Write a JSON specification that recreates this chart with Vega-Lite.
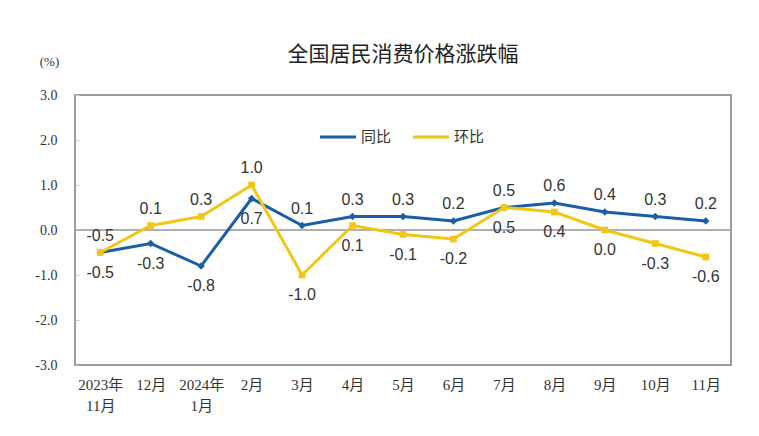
{
  "$schema": "https://vega.github.io/schema/vega-lite/v6.json",
  "width": 656,
  "height": 270,
  "autosize": {"type": "none"},
  "padding": {"left": 75, "top": 95, "right": 28, "bottom": 71},
  "background": "white",
  "title": {
    "text": "全国居民消费价格涨跌幅",
    "font": "Noto Sans CJK SC",
    "fontSize": 21,
    "fontWeight": "normal",
    "color": "#222",
    "anchor": "middle",
    "offset": -10
  },
  "config": {
    "view": {"stroke": "#9a9a9a", "strokeWidth": 2},
    "axis": {"grid": false},
    "locale": {"number": {"decimal": ".", "thousands": ",", "grouping": [3], "currency": ["", ""], "minus": "-"}}
  },
  "data": {
    "values": [
      {"month": "2023年 11月", "series": "同比", "value": -0.5},
      {"month": "12月", "series": "同比", "value": -0.3},
      {"month": "2024年 1月", "series": "同比", "value": -0.8},
      {"month": "2月", "series": "同比", "value": 0.7},
      {"month": "3月", "series": "同比", "value": 0.1},
      {"month": "4月", "series": "同比", "value": 0.3},
      {"month": "5月", "series": "同比", "value": 0.3},
      {"month": "6月", "series": "同比", "value": 0.2},
      {"month": "7月", "series": "同比", "value": 0.5},
      {"month": "8月", "series": "同比", "value": 0.6},
      {"month": "9月", "series": "同比", "value": 0.4},
      {"month": "10月", "series": "同比", "value": 0.3},
      {"month": "11月", "series": "同比", "value": 0.2},
      {"month": "2023年 11月", "series": "环比", "value": -0.5},
      {"month": "12月", "series": "环比", "value": 0.1},
      {"month": "2024年 1月", "series": "环比", "value": 0.3},
      {"month": "2月", "series": "环比", "value": 1.0},
      {"month": "3月", "series": "环比", "value": -1.0},
      {"month": "4月", "series": "环比", "value": 0.1},
      {"month": "5月", "series": "环比", "value": -0.1},
      {"month": "6月", "series": "环比", "value": -0.2},
      {"month": "7月", "series": "环比", "value": 0.5},
      {"month": "8月", "series": "环比", "value": 0.4},
      {"month": "9月", "series": "环比", "value": 0.0},
      {"month": "10月", "series": "环比", "value": -0.3},
      {"month": "11月", "series": "环比", "value": -0.6}
    ]
  },
  "encoding": {
    "x": {
      "field": "month",
      "type": "nominal",
      "sort": null,
      "scale": {"paddingInner": 0, "paddingOuter": 0},
      "axis": {
        "title": null,
        "labelAngle": 0,
        "domain": false,
        "ticks": false,
        "labelPadding": 12,
        "labelExpr": "split(datum.label, ' ')",
        "labelFont": "Liberation Serif, Noto Sans CJK SC",
        "labelFontSize": 15,
        "labelColor": "#333",
        "labelLineHeight": 21
      }
    },
    "y": {
      "field": "value",
      "type": "quantitative",
      "scale": {"domain": [-3, 3], "nice": false},
      "axis": {
        "values": [-3, -2, -1, 0, 1, 2, 3],
        "format": ".1f",
        "domain": false,
        "tickSize": -4,
        "tickColor": "#c8c8c8",
        "labelPadding": 22,
        "labelFont": "Liberation Serif",
        "labelFontSize": 14,
        "labelColor": "#333",
        "title": "(%)",
        "titleAngle": 0,
        "titleX": -26,
        "titleY": -27,
        "titleAlign": "center",
        "titleFont": "Liberation Serif",
        "titleFontSize": 13,
        "titleFontWeight": "normal",
        "titleColor": "#333"
      }
    }
  },
  "layer": [
    {
      "mark": {"type": "rule", "color": "#b0b0b0", "strokeWidth": 2},
      "encoding": {"y": {"datum": 0}, "x": {"value": 0}, "x2": {"value": 656}}
    },
    {
      "mark": {"type": "line", "strokeWidth": 3},
      "encoding": {
        "color": {
          "field": "series",
          "type": "nominal",
          "sort": ["同比", "环比"],
          "scale": {"domain": ["同比", "环比"], "range": ["#1b5ea8", "#f2c614"]},
          "legend": {
            "title": null,
            "orient": "none",
            "direction": "horizontal",
            "legendX": 243,
            "legendY": 22,
            "symbolType": "stroke",
            "symbolSize": 1300,
            "symbolStrokeWidth": 3,
            "labelFont": "Noto Sans CJK SC",
            "labelFontSize": 15,
            "labelColor": "#333",
            "columnPadding": 14,
            "labelOffset": 3
          }
        }
      }
    },
    {
      "transform": [{"filter": "datum.series == '同比'"}],
      "mark": {"type": "point", "filled": true, "size": 55, "opacity": 1, "shape": "diamond", "color": "#1b5ea8"}
    },
    {
      "transform": [{"filter": "datum.series == '环比'"}],
      "mark": {"type": "point", "filled": true, "size": 45, "opacity": 1, "shape": "square", "color": "#f2c614"}
    },
    {
      "transform": [
        {"filter": "(datum.series == '同比' && indexof(['2023年 11月','12月','2024年 1月','2月'], datum.month) < 0) || (datum.series == '环比' && indexof(['2023年 11月','12月','2024年 1月','2月'], datum.month) >= 0)"}
      ],
      "mark": {"type": "text", "dy": -17, "baseline": "middle", "font": "Liberation Sans", "fontSize": 16, "color": "#333"},
      "encoding": {"text": {"field": "value", "type": "quantitative", "format": ".1f"}}
    },
    {
      "transform": [
        {"filter": "!((datum.series == '同比' && indexof(['2023年 11月','12月','2024年 1月','2月'], datum.month) < 0) || (datum.series == '环比' && indexof(['2023年 11月','12月','2024年 1月','2月'], datum.month) >= 0))"}
      ],
      "mark": {"type": "text", "dy": 20, "baseline": "middle", "font": "Liberation Sans", "fontSize": 16, "color": "#333"},
      "encoding": {"text": {"field": "value", "type": "quantitative", "format": ".1f"}}
    }
  ]
}
